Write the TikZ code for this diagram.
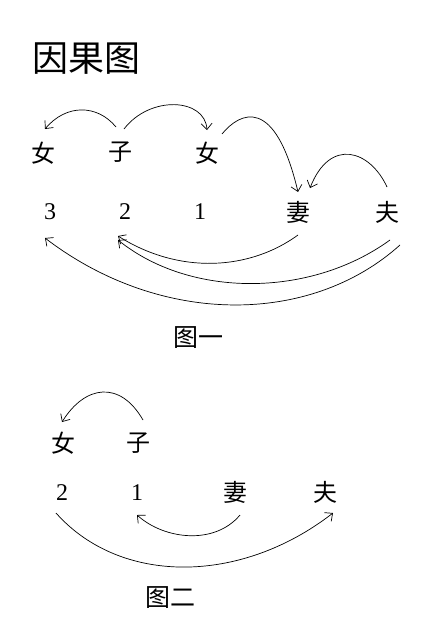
\documentclass[tikz,border=0pt]{standalone}
\usepackage{fontspec}
\newfontfamily\cjk{Noto Sans CJK SC}
\newfontfamily\digitfont{Liberation Serif}
\usetikzlibrary{arrows.meta}
\begin{document}
\begin{tikzpicture}[x=1pt,y=-1pt,
  hz/.style={font=\cjk\fontsize{24}{24}\selectfont, inner sep=0pt},
  num/.style={font=\digitfont\fontsize{24}{24}\selectfont, inner sep=0pt},
  captext/.style={font=\cjk\fontsize{25}{25}\selectfont, inner sep=0pt},
  arr/.style={line width=0.7pt, -{Straight Barb[length=6pt,width=11pt]}}]
\useasboundingbox (0,0) rectangle (447,629);
% title
\node[font=\cjk\fontsize{36}{36}\selectfont, inner sep=0pt] (title) at (86,59) {因果图};
% figure 1
\node[hz] (n1) at (43,153) {女};
\node[hz] (z1) at (120,152) {子};
\node[hz] (n2) at (207,153) {女};
\node[num] (d3) at (50,212) {3};
\node[num] (d2) at (125,212) {2};
\node[num] (d1) at (200,212) {1};
\node[hz] (qi) at (298,212) {妻};
\node[hz] (fu) at (387,212) {夫};
\node[captext] (c1) at (198,338) {图一};
\coordinate (a1s) at (116,127); \coordinate (a1e) at (45,129);
\coordinate (a2s) at (124,129); \coordinate (a2e) at (207,130);
\coordinate (a3s) at (222,134); \coordinate (a3e) at (298,192);
\coordinate (a4s) at (387,187); \coordinate (a4e) at (310,188);
\coordinate (b1s) at (298,235); \coordinate (b1e) at (118,236);
\coordinate (b2s) at (390,240); \coordinate (b2e) at (118,240);
\coordinate (b3s) at (400,245); \coordinate (b3e) at (45,238);
\draw[arr] (a1s) .. controls (97,104) and (66,104) .. (a1e);
\draw[arr] (a2s) .. controls (150,95) and (205,98) .. (a2e);
\draw[arr] (a3s) .. controls (240,112) and (275,95) .. (a3e);
\draw[arr] (a4s) .. controls (370,150) and (330,137) .. (a4e);
\draw[arr] (b1s) .. controls (250,270) and (180,275) .. (b1e);
\draw[arr] (b2s) .. controls (310,298) and (190,298) .. (b2e);
\draw[arr] (b3s) .. controls (310,326) and (160,326) .. (b3e);
% figure 2
\node[hz] (n3) at (63,443) {女};
\node[hz] (z2) at (138,443) {子};
\node[num] (e2) at (62,493) {2};
\node[num] (e1) at (137,493) {1};
\node[hz] (qi2) at (235,492) {妻};
\node[hz] (fu2) at (325,492) {夫};
\node[captext] (c2) at (170,598) {图二};
\coordinate (d1s) at (143,420); \coordinate (d1e) at (62,422);
\coordinate (e1s) at (240,515); \coordinate (e1e) at (137,515);
\coordinate (f1s) at (56,513); \coordinate (f1e) at (333,513);
\draw[arr] (d1s) .. controls (120,380) and (85,385) .. (d1e);
\draw[arr] (e1s) .. controls (215,545) and (165,540) .. (e1e);
\draw[arr] (f1s) .. controls (120,585) and (240,585) .. (f1e);
\end{tikzpicture}
\end{document}
